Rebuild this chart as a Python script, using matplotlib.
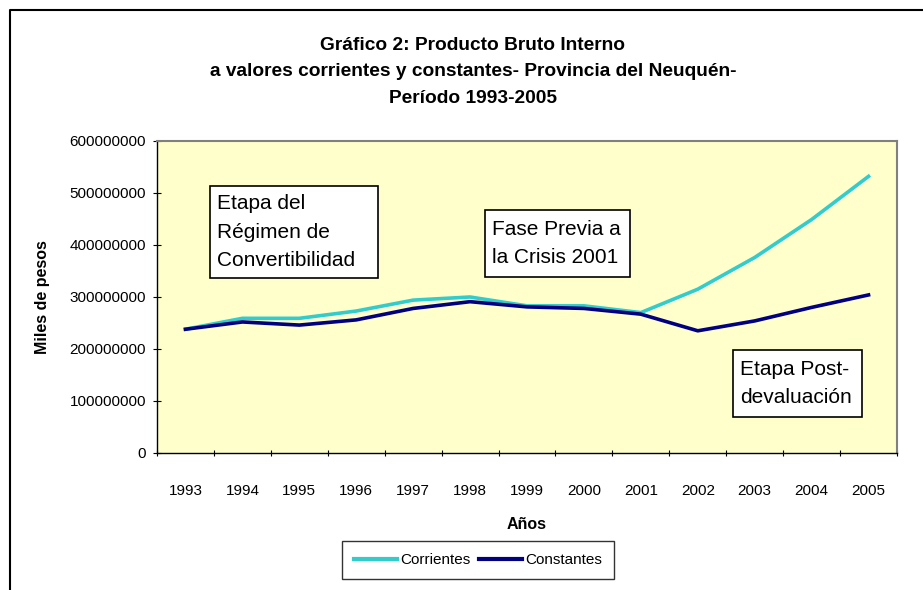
import matplotlib
matplotlib.use("Agg")
import matplotlib.pyplot as plt
from matplotlib.lines import Line2D
from matplotlib.patches import Rectangle
from matplotlib import font_manager

years = ["1993", "1994", "1995", "1996", "1997", "1998", "1999", "2000",
         "2001", "2002", "2003", "2004", "2005"]
corrientes = [238e6, 259e6, 259e6, 273e6, 294e6, 300e6, 283e6, 283e6,
              270e6, 315e6, 376e6, 449e6, 532e6]
constantes = [238e6, 252e6, 246e6, 256e6, 278e6, 291e6, 281e6, 278e6,
              267e6, 235e6, 254e6, 280e6, 304e6]
yticks = [0, 100000000, 200000000, 300000000, 400000000, 500000000, 600000000]

names = {f.name for f in font_manager.fontManager.ttflist}
fam = ["Liberation Sans Narrow", "DejaVu Sans"] if "Liberation Sans Narrow" in names else ["Liberation Sans", "DejaVu Sans"]
plt.rcParams['font.family'] = fam

W, H = 923, 590
fig = plt.figure(figsize=(W / 100, H / 100), dpi=100)

def fx(px):
    return px / W

def fy(py):
    return 1 - py / H

# outer border (top and left)
fig.add_artist(Line2D([fx(10), fx(10), 1.0], [0.0, fy(10), fy(10)], color="black", lw=1.5))

left, right, top, bottom = 157, 897, 141, 453
ax = fig.add_axes([fx(left), fy(bottom), fx(right - left), (bottom - top) / H])
ax.set_facecolor("#FFFFCC")

x = list(range(len(years)))
ax.plot(x, corrientes, color="#33CCCC", lw=2.6, label="Corrientes", solid_joinstyle="round")
ax.plot(x, constantes, color="#000080", lw=2.6, label="Constantes", solid_joinstyle="round")

ax.set_xlim(-0.5, len(years) - 0.5)
ax.set_ylim(0, 600000000)
ax.set_yticks(yticks)
ax.set_yticklabels([str(v) for v in yticks], fontsize=11)
ax.set_xticks(x)
ax.set_xticklabels(years, fontsize=11)
ax.set_xticks([i - 0.5 for i in range(len(years) + 1)], minor=True)
ax.tick_params(axis="x", which="major", length=0, pad=22)
ax.tick_params(axis="x", which="minor", length=5, direction="inout", width=0.8)
ax.tick_params(axis="y", length=6, direction="inout", width=0.8, pad=5)

for s in ["left", "bottom"]:
    ax.spines[s].set_color("black")
    ax.spines[s].set_linewidth(1.0)
for s in ["right", "top"]:
    ax.spines[s].set_color("#808080")
    ax.spines[s].set_linewidth(1.5)

ax.set_xlabel("Años", fontsize=11.5, fontweight="bold", labelpad=14)
ax.set_ylabel("Miles de pesos", fontsize=11.5, fontweight="bold", labelpad=14)

fig.text(fx(473), fy(72), "Gráfico 2: Producto Bruto Interno\na valores corrientes y constantes- Provincia del Neuquén-\nPeríodo 1993-2005",
         ha="center", va="center", fontsize=13.8, fontweight="bold", linespacing=1.75)

def box(x0, y0, x1, y1, txt):
    fig.add_artist(Rectangle((fx(x0), fy(y1)), fx(x1 - x0), (y1 - y0) / H,
                             facecolor="white", edgecolor="black", lw=1.2))
    fig.text(fx(x0 + 7), fy((y0 + y1) / 2), txt, ha="left", va="center",
             fontsize=15, linespacing=1.62)

box(210, 186, 378, 278, "Etapa del\nRégimen de\nConvertibilidad")
box(485, 210, 630, 277, "Fase Previa a\nla Crisis 2001")
box(733, 350, 862, 417, "Etapa Post-\ndevaluación")

leg = fig.legend(loc="center", bbox_to_anchor=(fx(478), fy(560)), ncol=2, fontsize=11,
                 frameon=True, fancybox=False, edgecolor="black", handlelength=2.8,
                 handletextpad=0.2, columnspacing=0.6, borderpad=0.8)
leg.get_frame().set_linewidth(1.0)
for h in leg.get_lines():
    h.set_linewidth(3)

fig.savefig("out.png", dpi=100)
